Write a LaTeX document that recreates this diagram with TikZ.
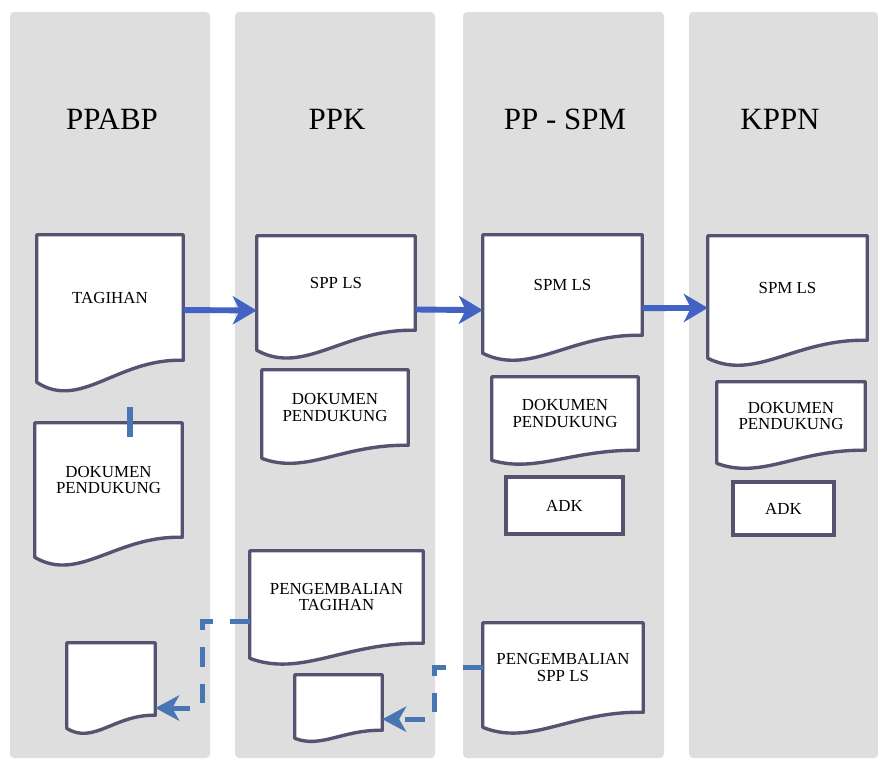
\documentclass[tikz,border=0pt]{standalone}
\usepackage{fontspec}
\setmainfont{Liberation Serif}
\usepackage{xcolor}
\usepackage{tikz}
\usetikzlibrary{arrows.meta,shapes,backgrounds}
\usetikzlibrary{calc}

\definecolor{lanegray}{RGB}{222,222,222}
\definecolor{docgray}{RGB}{84,84,112}
\definecolor{flowblue}{RGB}{66,98,196}
\definecolor{backblue}{RGB}{72,118,178}

\tikzset{
  lane/.style={fill=lanegray,draw=none,rounded corners=3pt},
  lanetitle/.style={font=\fontsize{22}{22}\selectfont},
  doc/.style 2 args={inner sep=0pt,minimum width=#1*0.025cm,minimum height=#2*0.025cm,
    align=center,font=\fontsize{12}{12}\selectfont},
  docline/.style={draw=docgray,line width=2.4pt,fill=white,line join=round},
  flow/.style={draw=flowblue,line width=4.2pt,-{Stealth[length=17pt,width=20pt,inset=5pt]}},
  back/.style={draw=backblue,line width=3.6pt,dash pattern=on 14pt off 12pt,
    -{Stealth[length=17pt,width=18pt,inset=5pt]}}
}

\newcommand{\docshape}[2]{%
  \begin{scope}[on background layer]
  \path[docline] (#1.south east)
    .. controls ($(#1.south west)!0.55!(#1.south east)+(0,{-0.1*#2})$)
    and ($(#1.south west)!0.3!(#1.south east)+(0,{2.3*#2})$)
    .. ($(#1.south west)+(0,#2)$) -- (#1.north west) -- (#1.north east) -- cycle;
  \end{scope}}

\begin{document}
\begin{tikzpicture}[x=0.025cm,y=-0.025cm]
\useasboundingbox (0,0) rectangle (878,765);
\begin{scope}[on background layer]
\fill[white] (0,0) rectangle (878,765);
\path[lane] (10,12) rectangle (210,758);
\path[lane] (235,12) rectangle (435,758);
\path[lane] (463,12) rectangle (664,758);
\path[lane] (689,12) rectangle (878,758);
\end{scope}

\node[lanetitle] (ppabp) at (112,119) {PPABP};
\node[lanetitle] (ppk) at (337,119) {PPK};
\node[lanetitle] (ppspm) at (565,119) {PP - SPM};
\node[lanetitle] (kppn) at (780,119) {KPPN};

\node[doc={146}{125}] (tagihan) at (110,297.5) {TAGIHAN};
\docshape{tagihan}{22}
\node[doc={147}{114}] (dok1) at (108.5,480) {DOKUMEN\\PENDUKUNG};
\docshape{dok1}{20}
\node[doc={88}{72}] (sdoc1) at (111,679) {};
\docshape{sdoc1}{13}

\node[doc={158}{94}] (spp) at (336,283) {SPP LS};
\docshape{spp}{20}
\node[doc={146}{75}] (dok2) at (335,407.5) {DOKUMEN\\PENDUKUNG};
\docshape{dok2}{13}
\node[doc={173}{92}] (pengtag) at (336.5,597) {PENGEMBALIAN\\TAGIHAN};
\docshape{pengtag}{15}
\node[doc={87}{55}] (sdoc2) at (338.5,702.5) {};
\docshape{sdoc2}{8}

\node[doc={159}{100}] (spm) at (562.5,285) {SPM LS};
\docshape{spm}{18}
\node[doc={146}{73}] (dok3) at (565,413.5) {DOKUMEN\\PENDUKUNG};
\docshape{dok3}{10}
\node[doc={117}{57},draw=docgray,line width=2.4pt,fill=white] (adk1) at (564.5,505.5) {ADK};
\node[doc={160}{89}] (pengspp) at (563,667.5) {PENGEMBALIAN\\SPP LS};
\docshape{pengspp}{15}

\node[doc={159}{104}] (kspm) at (787.5,288) {SPM LS};
\docshape{kspm}{18}
\node[doc={148}{68}] (dok4) at (791,416) {DOKUMEN\\PENDUKUNG};
\docshape{dok4}{13}
\node[doc={101}{53},draw=docgray,line width=2.4pt,fill=white] (adk2) at (783.5,508.5) {ADK};

\draw[flow] ($(tagihan.north east)!0.6!(tagihan.south east)$) -- ($(spp.north west)!0.79!(spp.south west)$);
\draw[flow] ($(spp.north east)!0.78!(spp.south east)$) -- ($(spm.north west)!0.75!(spm.south west)$);
\draw[flow] ($(spm.north east)!0.73!(spm.south east)$) -- ($(kspm.north west)!0.69!(kspm.south west)$);
\draw[draw=backblue,line width=3.6pt] ($(dok1.north)+(21.5,-16)$) -- ($(dok1.north)+(21.5,14)$);

\draw[back] ($(pengtag.north west)!0.76!(pengtag.south west)$) -- ++(-47,0) |- ($(sdoc1.north east)!0.9!(sdoc1.south east)$);
\draw[back] (pengspp.west) -- ++(-48,0) |- ($(sdoc2.north east)!0.8!(sdoc2.south east)$);
\end{tikzpicture}
\end{document}
